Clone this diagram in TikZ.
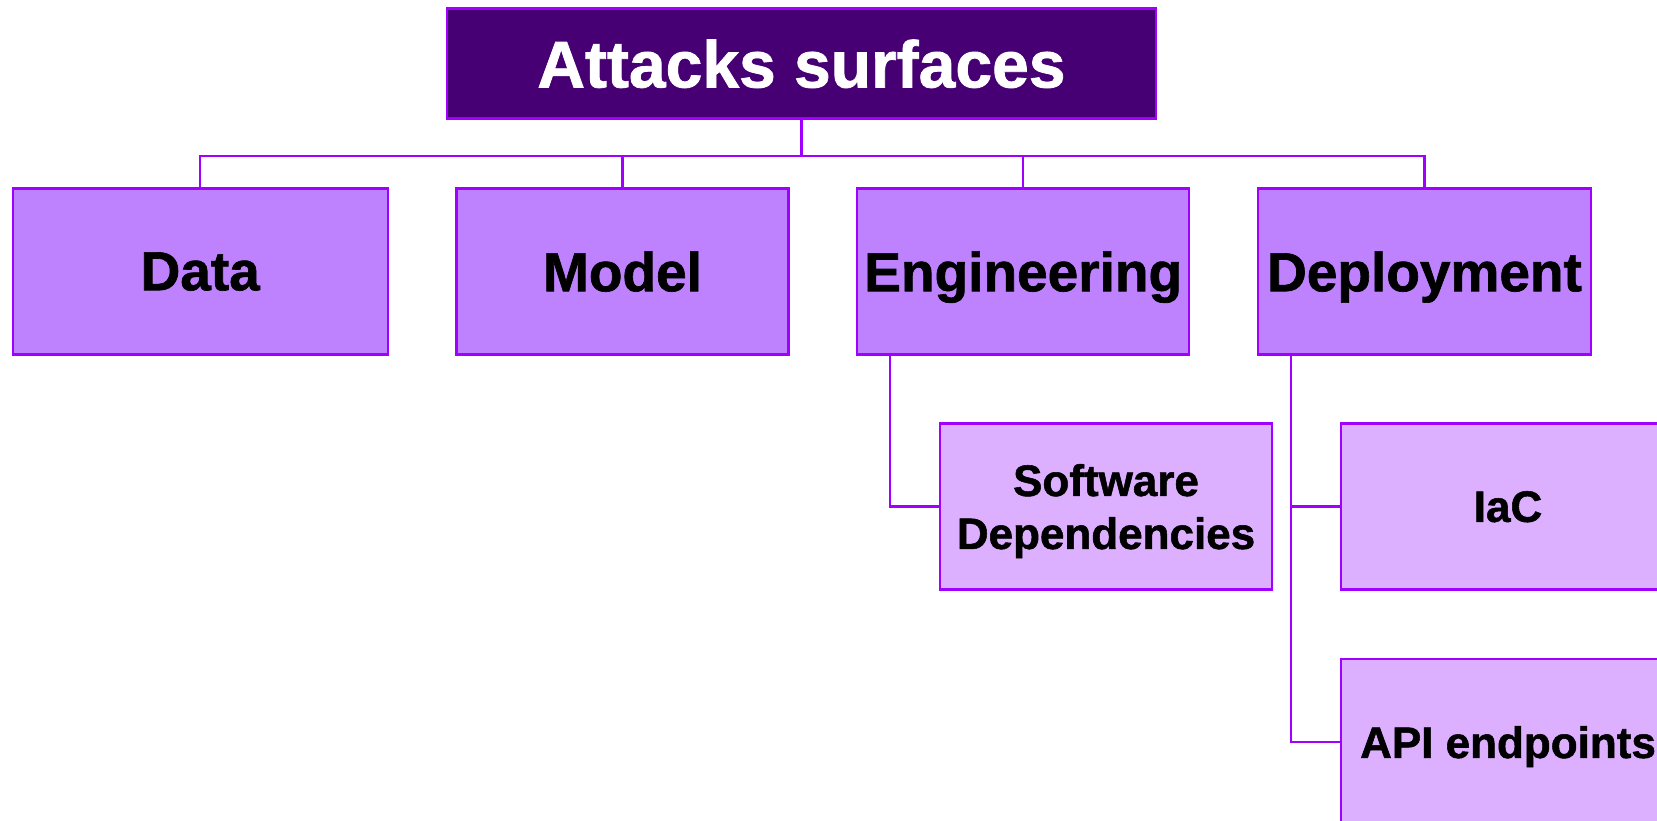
\documentclass[tikz,border=0pt]{standalone}
\usepackage{fontspec}
\setmainfont{Liberation Sans}[BoldFeatures={FakeBold=1.2}]
\definecolor{rootfill}{HTML}{460073}
\definecolor{edge}{HTML}{A100FF}
\definecolor{lvlone}{HTML}{BE82FF}
\definecolor{lvltwo}{HTML}{DCAFFF}
\begin{document}
\begin{tikzpicture}[x=1pt,y=-1pt,
  box/.style={rectangle, draw=edge, line width=2.4pt, inner sep=0pt, text depth=0pt, align=center, font=\bfseries},
  rootbox/.style={box, fill=rootfill, text=white, minimum width=709pt, minimum height=110pt, font=\fontsize{66}{79}\selectfont\bfseries},
  onebox/.style={box, fill=lvlone, text=black, minimum height=166pt, font=\fontsize{55}{66}\selectfont\bfseries},
  twobox/.style={box, fill=lvltwo, text=black, minimum width=333pt, minimum height=166pt, font=\fontsize{44}{53}\selectfont\bfseries},
  conn/.style={draw=edge, line width=2.4pt}]
\useasboundingbox (0,0) rectangle (1657,820);
\clip (0,0) rectangle (1657,820);
\node[rootbox] (root) at (801.5,63.5) {Attacks surfaces};
\node[onebox, minimum width=375pt] (data) at (200.2,271.3) {Data};
\node[onebox, minimum width=332pt] (model) at (622.5,271.3) {Model};
\node[onebox, minimum width=332pt] (eng) at (1023.2,271.3) {Engineering};
\node[onebox, minimum width=333pt] (dep) at (1424.5,271.3) {Deployment};
\node[twobox, minimum width=332pt] (sd) at (1106,506.5) {Software\\Dependencies};
\node[twobox, minimum width=334pt] (iac) at (1508,506.5) {IaC};
\node[twobox, minimum width=334pt] (api) at (1508,742) {API endpoints};
\foreach \c in {data,model,eng,dep}{
  \draw[conn] (root.south) -- ++(0,36) -| (\c.north);
}
\draw[conn] ([xshift=34pt]eng.south west) |- (sd.west);
\draw[conn] ([xshift=34pt]dep.south west) |- (iac.west);
\draw[conn] ([xshift=34pt]dep.south west) |- (api.west);
\end{tikzpicture}
\end{document}
